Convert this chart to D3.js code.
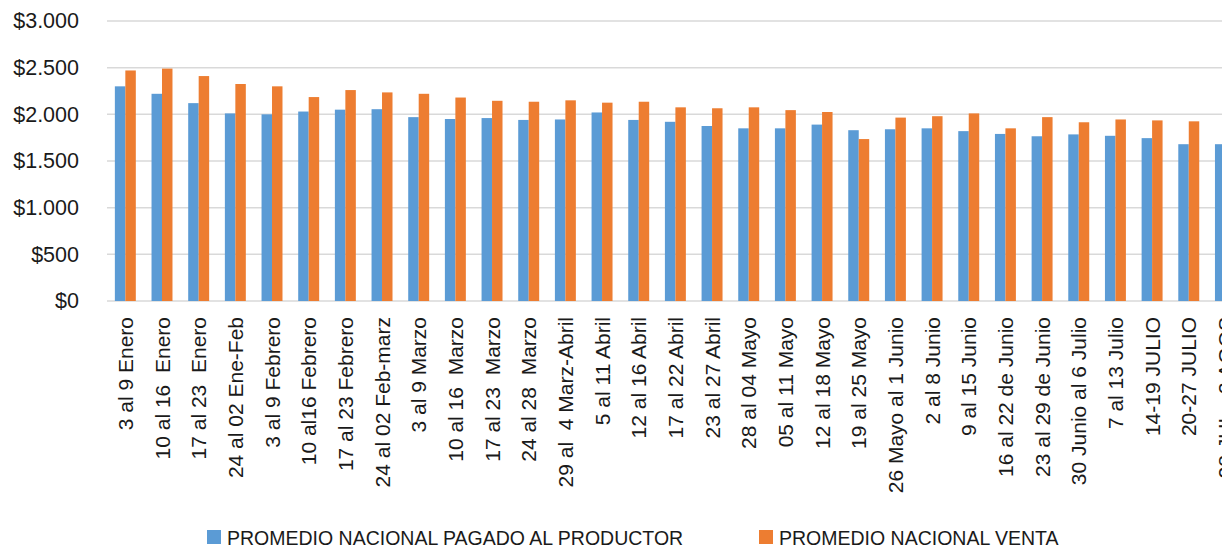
<!DOCTYPE html>
<html>
<head>
<meta charset="utf-8">
<script src="https://cdn.jsdelivr.net/npm/d3@7"></script>
<style>
  html, body { margin: 0; padding: 0; background: #fff; overflow: hidden; }
  svg { display: block; font-family: "Liberation Sans", Arial, sans-serif; }
</style>
</head>
<body>
<svg id="precios" width="1222" height="546"></svg>
<script>
// semanas
var semanas = [
  "3 al 9 Enero", "10 al 16  Enero", "17 al 23  Enero", "24 al 02 Ene-Feb",
  "3 al 9 Febrero", "10 al16 Febrero", "17 al 23 Febrero", "24 al 02 Feb-marz",
  "3 al 9 Marzo", "10 al 16  Marzo", "17 al 23  Marzo", "24 al 28  Marzo",
  "29 al  4 Marz-Abril", "5 al 11 Abril", "12 al 16 Abril", "17 al 22 Abril",
  "23 al 27 Abril", "28 al 04 Mayo", "05 al 11 Mayo", "12 al 18 Mayo",
  "19 al 25 Mayo", "26 Mayo al 1 Junio", "2 al 8 Junio", "9 al 15 Junio",
  "16 al 22 de Junio", "23 al 29 de Junio", "30 Junio al 6 Julio", "7 al 13 Julio",
  "14-19 JULIO", "20-27 JULIO", "28 JUL - 3 AGOS"
];

var productor = [
  2300, 2220, 2120, 2010, 2000, 2030, 2050, 2055, 1970, 1950,
  1960, 1940, 1945, 2020, 1940, 1920, 1875, 1850, 1850, 1890,
  1830, 1840, 1850, 1820, 1790, 1765, 1785, 1770, 1745, 1680,
  1680
];

var venta = [
  2470, 2490, 2410, 2325, 2300, 2185, 2260, 2235, 2220, 2180,
  2145, 2135, 2150, 2125, 2135, 2075, 2065, 2075, 2045, 2025,
  1735, 1965, 1980, 2010, 1850, 1970, 1915, 1945, 1935, 1925,
  1920
];

var series = ["PROMEDIO NACIONAL PAGADO AL PRODUCTOR", "PROMEDIO NACIONAL VENTA"];
var colores = ["#5b9bd5", "#ed7d31"];
var yTicks = [0, 500, 1000, 1500, 2000, 2500, 3000];

var svg = d3.select("#precios"),
  margin = { top: 21, left: 107, bottom: 245 },
  height = +svg.attr("height") - margin.top - margin.bottom;

// the plot runs past the right edge of the picture, last week is cut off
var paso = 36.67;
var x = d3.scaleBand().domain(semanas)
  .range([margin.left, margin.left + paso * semanas.length]).padding(0);
var xSerie = d3.scaleBand().domain(series)
  .range([0, x.bandwidth()]).paddingOuter(0.75).paddingInner(0);
var y = d3.scaleLinear().domain([0, 3000]).range([margin.top + height, margin.top]);

var peso = function (v) { return "$" + d3.format(",")(v).replace(/,/g, "."); };

// grid
svg.append("g")
  .selectAll("line")
  .data(yTicks)
  .enter().append("line")
  .attr("x1", margin.left)
  .attr("x2", 1222)
  .attr("y1", function (d) { return y(d); })
  .attr("y2", function (d) { return y(d); })
  .attr("stroke", "#d9d9d9")
  .attr("stroke-width", 1.5);

// y axis
var ejeY = svg.append("g")
  .attr("transform", "translate(79,0)")
  .call(d3.axisLeft(y).tickValues(yTicks).tickFormat(peso).tickSize(0).tickPadding(0));
ejeY.select(".domain").remove();
ejeY.selectAll("text")
  .attr("font-family", "Liberation Sans, Arial, sans-serif")
  .attr("font-size", 21.5)
  .attr("fill", "#1a1a1a");

// bars
var grupos = svg.append("g")
  .selectAll("g")
  .data(semanas)
  .enter().append("g")
  .attr("transform", function (d) { return "translate(" + x(d) + ",0)"; });

grupos.selectAll("rect")
  .data(function (d, i) {
    return [
      { serie: series[0], valor: productor[i], color: colores[0] },
      { serie: series[1], valor: venta[i], color: colores[1] }
    ];
  })
  .enter().append("rect")
  .attr("x", function (d) { return xSerie(d.serie); })
  .attr("y", function (d) { return y(d.valor); })
  .attr("width", xSerie.bandwidth())
  .attr("height", function (d) { return y(0) - y(d.valor); })
  .attr("fill", function (d) { return d.color; });

// category labels
svg.append("g")
  .selectAll("text")
  .data(semanas)
  .enter().append("text")
  .attr("transform", function (d) {
    return "translate(" + (x(d) + x.bandwidth() / 2) + ",317) rotate(-90)";
  })
  .attr("text-anchor", "end")
  .attr("dy", "0.36em")
  .attr("font-size", 21)
  .attr("fill", "#1a1a1a")
  .style("white-space", "pre")
  .text(function (d) { return d; });

// legend
var leyenda = svg.append("g")
  .selectAll("g")
  .data(series)
  .enter().append("g")
  .attr("transform", function (d, i) { return "translate(" + [207, 759][i] + ",530)"; });

leyenda.append("rect")
  .attr("width", 14)
  .attr("height", 14)
  .attr("fill", function (d, i) { return colores[i]; });

leyenda.append("text")
  .attr("x", 20)
  .attr("y", 14.5)
  .attr("font-size", 19.5)
  .attr("fill", "#1a1a1a")
  .text(function (d) { return d; });
</script>
</body>
</html>
